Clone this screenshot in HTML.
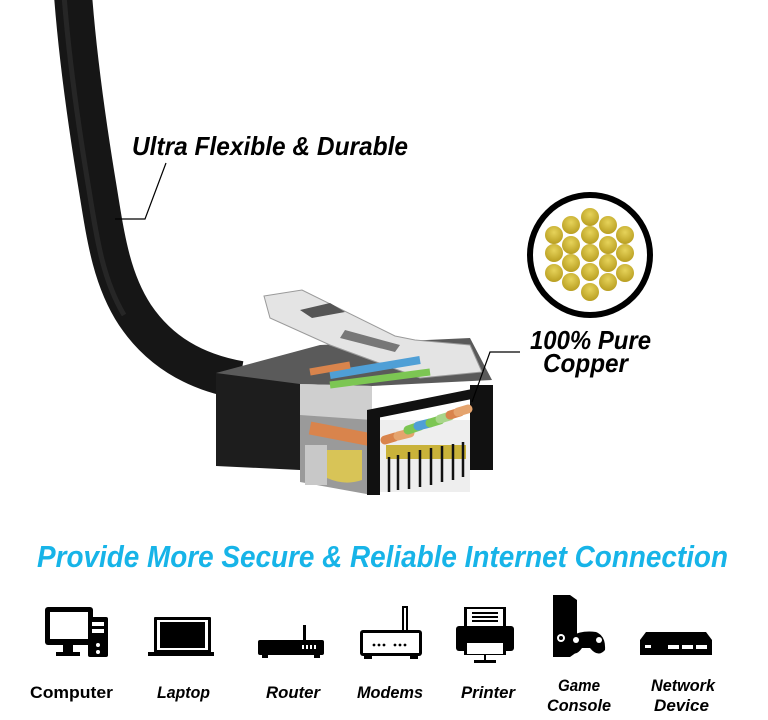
<!DOCTYPE html>
<html><head><meta charset="utf-8"><style>
html,body{margin:0;padding:0;background:#fff;}
svg{display:block;}
text{font-family:"Liberation Sans",Arial,sans-serif;font-weight:bold;}
</style></head><body>
<svg width="768" height="720" viewBox="0 0 768 720" xmlns="http://www.w3.org/2000/svg">
<defs>
<radialGradient id="cu" cx="0.5" cy="0.35" r="0.7"><stop offset="0" stop-color="#e6d35a"/><stop offset="1" stop-color="#b59a1c"/></radialGradient>
</defs>
<!-- cable -->
<path d="M73,-5 C78,60 88,130 98,190 C106,240 112,280 135,315 C160,352 195,372 240,380" fill="none" stroke="#161616" stroke-width="38"/>
<path d="M64,-5 C69,60 79,130 89,190 C97,240 103,280 124,315" fill="none" stroke="#2e2e2e" stroke-width="5" opacity="0.7"/>
<!-- connector -->
<polygon points="216,373 300,356 300,470 216,466" fill="#1d1d1d"/>
<polygon points="216,373 320,345 470,338 492,380 372,386 300,384" fill="#5a5a5a"/>
<polygon points="300,384 372,386 372,495 300,482" fill="#9a9a9a"/>
<polygon points="300,384 372,386 372,420 300,415" fill="#cfcfcf"/>
<!-- latch -->
<polygon points="264,296 302,290 395,336 415,340 470,345 482,372 420,378 330,345 270,318" fill="#e4e4e4" stroke="#9a9a9a" stroke-width="1"/>
<polygon points="300,310 330,303 345,312 312,318" fill="#555"/>
<polygon points="345,330 400,345 395,352 340,338" fill="#777"/>
<!-- wires -->
<path d="M310,428 L372,440" stroke="#d9844c" stroke-width="13"/>
<path d="M330,375 L420,360" stroke="#4f9fd6" stroke-width="8"/>
<path d="M330,385 L430,372" stroke="#7cc653" stroke-width="7"/>
<path d="M310,372 L350,365" stroke="#d9844c" stroke-width="7"/>
<!-- left gold piece -->
<path d="M327,450 L362,450 L362,480 Q345,486 327,478 Z" fill="#d8c457"/>
<rect x="305" y="445" width="22" height="40" fill="#c8c8c8"/>
<!-- front face -->
<polygon points="367,410 492,385 492,395 367,420" fill="#111"/>
<rect x="367" y="410" width="13" height="85" fill="#111"/>
<rect x="470" y="385" width="23" height="85" fill="#111"/>
<rect x="380" y="420" width="90" height="72" fill="#eeeeee"/>
<g stroke-width="9" stroke-linecap="round">
<path d="M385,440 L395,437" stroke="#d9844c"/>
<path d="M398,436 L410,433" stroke="#e5a46e"/>
<path d="M408,430 L420,426" stroke="#7cc653"/>
<path d="M418,426 L430,423" stroke="#4f9fd6"/>
<path d="M430,423 L440,420" stroke="#7cc653"/>
<path d="M440,419 L450,416" stroke="#a8d58a"/>
<path d="M450,415 L460,412" stroke="#d9844c"/>
<path d="M458,412 L468,409" stroke="#e5a46e"/>
</g>
<rect x="386" y="445" width="80" height="14" fill="#c9b23a"/>
<g stroke="#111" stroke-width="2.5">
<line x1="398" y1="455" x2="398" y2="490"/><line x1="409" y1="452" x2="409" y2="489"/>
<line x1="420" y1="450" x2="420" y2="487"/><line x1="431" y1="448" x2="431" y2="485"/>
<line x1="442" y1="446" x2="442" y2="482"/><line x1="453" y1="444" x2="453" y2="480"/>
<line x1="463" y1="442" x2="463" y2="477"/><line x1="389" y1="457" x2="389" y2="492"/>
</g>
<!-- copper circle -->
<circle cx="590" cy="255" r="60" fill="#fff" stroke="#000" stroke-width="6"/>
<g fill="url(#cu)">
<circle cx="590" cy="217" r="9"/><circle cx="590" cy="235" r="9"/><circle cx="590" cy="253" r="9"/><circle cx="590" cy="272" r="9"/><circle cx="590" cy="292" r="9"/>
<circle cx="571" cy="225" r="9"/><circle cx="571" cy="245" r="9"/><circle cx="571" cy="263" r="9"/><circle cx="571" cy="282" r="9"/>
<circle cx="608" cy="225" r="9"/><circle cx="608" cy="245" r="9"/><circle cx="608" cy="263" r="9"/><circle cx="608" cy="282" r="9"/>
<circle cx="554" cy="235" r="9"/><circle cx="554" cy="253" r="9"/><circle cx="554" cy="273" r="9"/>
<circle cx="625" cy="235" r="9"/><circle cx="625" cy="253" r="9"/><circle cx="625" cy="273" r="9"/>
</g>
<!-- labels -->
<text x="132" y="155" font-size="26" font-style="italic" textLength="276" lengthAdjust="spacingAndGlyphs">Ultra Flexible &amp; Durable</text>
<polyline points="166,163 145,219 115,219" fill="none" stroke="#000" stroke-width="1.2"/>
<text x="530" y="349" font-size="26" font-style="italic" textLength="121" lengthAdjust="spacingAndGlyphs">100% Pure</text>
<text x="543" y="372" font-size="26" font-style="italic" textLength="85" lengthAdjust="spacingAndGlyphs">Copper</text>
<polyline points="520,352 490,352 472,402" fill="none" stroke="#000" stroke-width="1.2"/>
<text x="37" y="567" font-size="31" font-style="italic" fill="#17b4e8" textLength="691" lengthAdjust="spacingAndGlyphs">Provide More Secure &amp; Reliable Internet Connection</text>
<!-- icons -->
<g fill="#000">
<rect x="45" y="607" width="48" height="38" rx="3"/><rect x="50" y="612" width="38" height="27" fill="#fff"/>
<rect x="63" y="645" width="10" height="8"/><rect x="56" y="652" width="24" height="4"/>
<rect x="88" y="617" width="20" height="40" rx="2"/><rect x="92" y="622" width="12" height="4" fill="#fff"/><rect x="92" y="629" width="12" height="4" fill="#fff"/><circle cx="98" cy="645" r="2" fill="#fff"/><circle cx="98" cy="652" r="2" fill="#fff"/>
<rect x="154" y="617" width="57" height="36" rx="1"/><rect x="157" y="620" width="51" height="30" fill="#fff"/><rect x="160" y="622" width="45" height="26"/>
<rect x="148" y="652" width="66" height="4"/>
<rect x="258" y="640" width="66" height="15" rx="2"/><rect x="303" y="625" width="3" height="15"/>
<rect x="302" y="645" width="2" height="4" fill="#fff"/><rect x="306" y="645" width="2" height="4" fill="#fff"/><rect x="310" y="645" width="2" height="4" fill="#fff"/><rect x="314" y="645" width="2" height="4" fill="#fff"/>
<rect x="262" y="655" width="6" height="3"/><rect x="314" y="655" width="6" height="3"/>
<rect x="360" y="630" width="62" height="26" rx="3"/><rect x="363" y="633" width="56" height="20" fill="#fff"/>
<rect x="402" y="606" width="6" height="26"/><rect x="404" y="608" width="2" height="22" fill="#fff"/>
<circle cx="374" cy="645" r="1.4"/><circle cx="379" cy="645" r="1.4"/><circle cx="384" cy="645" r="1.4"/><circle cx="395" cy="645" r="1.4"/><circle cx="400" cy="645" r="1.4"/><circle cx="405" cy="645" r="1.4"/>
<rect x="364" y="656" width="8" height="3"/><rect x="410" y="656" width="8" height="3"/>
<rect x="464" y="607" width="42" height="20"/><rect x="467" y="609" width="36" height="18" fill="#fff"/>
<rect x="472" y="612" width="26" height="2"/><rect x="472" y="616" width="26" height="2"/><rect x="472" y="620" width="26" height="2"/>
<rect x="456" y="626" width="58" height="25" rx="3"/><rect x="464" y="640" width="42" height="15"/><rect x="467" y="643" width="36" height="11" fill="#fff"/>
<rect x="484" y="654" width="2" height="8"/><rect x="474" y="660" width="22" height="3"/>
<rect x="553" y="595" width="17" height="62"/><polygon points="570,595 577,600 577,652 570,657"/>
<circle cx="561" cy="638" r="4" fill="#fff"/><circle cx="561" cy="638" r="2"/>
<path d="M570,637 Q580,630 596,632 Q606,636 605,650 Q598,658 590,648 L582,648 Q575,658 570,650 Z"/>
<circle cx="576" cy="640" r="3" fill="#fff"/><circle cx="599" cy="640" r="3" fill="#fff"/>
<polygon points="646,632 706,632 712,640 640,640"/><rect x="640" y="640" width="72" height="15"/>
<rect x="645" y="645" width="6" height="3" fill="#fff"/><rect x="668" y="645" width="11" height="4" fill="#fff"/><rect x="682" y="645" width="11" height="4" fill="#fff"/><rect x="696" y="645" width="11" height="4" fill="#fff"/>
</g>
<g font-size="17">
<text x="30" y="698" textLength="83" lengthAdjust="spacingAndGlyphs">Computer</text>
<text x="157" y="698" font-style="italic" textLength="53" lengthAdjust="spacingAndGlyphs">Laptop</text>
<text x="266" y="698" font-style="italic" textLength="54" lengthAdjust="spacingAndGlyphs">Router</text>
<text x="357" y="698" font-style="italic" textLength="66" lengthAdjust="spacingAndGlyphs">Modems</text>
<text x="461" y="698" font-style="italic" textLength="54" lengthAdjust="spacingAndGlyphs">Printer</text>
<text x="558" y="691" font-style="italic" textLength="42" lengthAdjust="spacingAndGlyphs">Game</text>
<text x="547" y="711" font-style="italic" textLength="64" lengthAdjust="spacingAndGlyphs">Console</text>
<text x="651" y="691" font-style="italic" textLength="64" lengthAdjust="spacingAndGlyphs">Network</text>
<text x="654" y="711" font-style="italic" textLength="55" lengthAdjust="spacingAndGlyphs">Device</text>
</g>
</svg>
</body></html>
